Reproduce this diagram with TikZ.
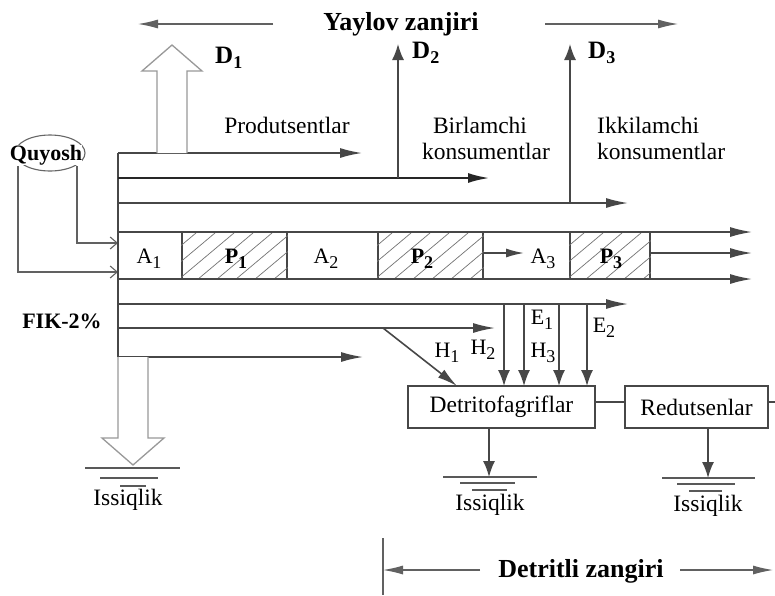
\documentclass[tikz,border=0pt]{standalone}
\usepackage{fontspec}
\setmainfont{Liberation Serif}
\usetikzlibrary{arrows.meta,shapes.geometric}
\newcommand\sbx[1]{\raisebox{-5pt}{\fontsize{18}{18}\selectfont #1}}
\begin{document}
\begin{tikzpicture}[x=1pt,y=-1pt,
  ln/.style={draw=black!72, line width=1.6pt},
  harr/.style={ln, -{Latex[length=22pt,width=10pt]}},
  varr/.style={ln, -{Latex[length=16pt,width=12pt]}},
  thinln/.style={draw=black!62, line width=1.1pt},
  tarr/.style={thinln, -{Latex[length=20pt,width=9pt]}},
  barb/.style={thinln, -{Straight Barb[length=7pt,width=12pt]}},
  hollow/.style={draw=black!40, line width=1.3pt, fill=white, line join=miter},
  hatch/.style={draw=black!55, line width=0.7pt},
  rg/.style={font=\fontsize{23.5}{26}\selectfont, inner sep=0pt},
  bd/.style={font=\fontsize{26}{28}\selectfont\bfseries, inner sep=0pt},
  lab/.style={font=\fontsize{22}{24}\selectfont, inner sep=0pt},
  blab/.style={font=\fontsize{22}{24}\selectfont\bfseries, inner sep=0pt},
  dlab/.style={font=\fontsize{25}{27}\selectfont\bfseries, inner sep=0pt},
  cell/.style={draw=black!72, line width=1.6pt, minimum height=47pt, inner sep=0pt},
  box/.style={draw=black!72, line width=1.6pt, minimum height=42pt, inner sep=0pt, font=\fontsize{23.5}{26}\selectfont},
  gnd/.style={draw=black!65, line width=1.4pt}
]
\useasboundingbox (0,0) rectangle (775,595);
\fill[white] (0,0) rectangle (775,595);

% ---------- title ----------
\node[bd, anchor=base] (yay) at (401,30) {Yaylov zanjiri};
\coordinate (yl1) at (273,24); \coordinate (yl2) at (138,24);
\coordinate (yr1) at (545,24); \coordinate (yr2) at (678,24);
\draw[tarr] (yl1) -- (yl2);
\draw[tarr] (yr1) -- (yr2);

% ---------- Quyosh ----------
\node[ellipse, draw=black!60, line width=1.1pt, minimum width=70pt, minimum height=36pt, inner sep=0pt] (quy) at (50,153) {};
\node[blab, fill=white, anchor=base] (quyt) at (46,160) {Quyosh};
\coordinate (q1) at (18,166); \coordinate (q1b) at (18,272); \coordinate (q1e) at (118,272);
\coordinate (q2) at (77,166); \coordinate (q2b) at (77,243); \coordinate (q2e) at (118,243);
\draw[barb] (q1) -- (q1b) -- (q1e);
\draw[barb] (q2) -- (q2b) -- (q2e);

% ---------- strip cells ----------
\node[cell, minimum width=64pt]  (A1) at (150,255.5) {};
\node[cell, minimum width=105pt] (P1) at (234.5,255.5) {};
\node[cell, minimum width=91pt]  (A2) at (332.5,255.5) {};
\node[cell, minimum width=105pt] (P2) at (430.5,255.5) {};
\node[cell, minimum width=87pt]  (A3) at (526.5,255.5) {};
\node[cell, minimum width=80pt]  (P3) at (610,255.5) {};
\foreach \c in {P1,P2,P3}{
  \begin{scope}
    \clip (\c.south west) rectangle (\c.north east);
    \foreach \k in {0,...,10}
      \draw[hatch] (\c.south west) ++({\k*19-60},0) -- ++(56,-47);
  \end{scope}
}
\node[lab, anchor=base] (tA1) at (149,263) {A\sbx{1}};
\node[blab, anchor=base] (tP1) at (236,263) {P\sbx{1}};
\node[lab, anchor=base] (tA2) at (326,263) {A\sbx{2}};
\node[blab, anchor=base] (tP2) at (422,263) {P\sbx{2}};
\node[lab, anchor=base] (tA3) at (543,263) {A\sbx{3}};
\node[blab, anchor=base] (tP3) at (611,263) {P\sbx{3}};

% ---------- horizontal flows ----------
\coordinate (v0) at (118,153); \coordinate (v1) at (118,357);
\coordinate (h1s) at (118,153); \coordinate (h1e) at (362,153);
\coordinate (h2s) at (118,178); \coordinate (h2e) at (490,178);
\coordinate (h3s) at (118,203); \coordinate (h3e) at (628,203);
\coordinate (h4s) at (118,232); \coordinate (h4e) at (752,232);
\coordinate (h5s) at (650,253); \coordinate (h5e) at (752,253);
\coordinate (h6s) at (118,279); \coordinate (h6e) at (752,279);
\coordinate (h7s) at (118,304); \coordinate (h7e) at (628,304);
\coordinate (h8s) at (118,328); \coordinate (h8e) at (495,328);
\coordinate (h9s) at (118,357); \coordinate (h9e) at (363,357);
\draw[ln] (v0) -- (v1);
\draw[harr] (h1s) -- (h1e);
\draw[harr, line width=2.6pt, draw=black!85] (h2s) -- (h2e);
\draw[harr] (h3s) -- (h3e);
\draw[harr] (h4s) -- (h4e);
\draw[harr] (h5s) -- (h5e);
\draw[harr] (h6s) -- (h6e);
\draw[harr] (h7s) -- (h7e);
\draw[harr] (h8s) -- (h8e);
\draw[harr] (h9s) -- (h9e);
\coordinate (pa) at (483,253); \coordinate (pb) at (524,253);
\draw[harr, -{Latex[length=18pt,width=9pt]}] (pa) -- (pb);

% ---------- D arrows ----------
\draw[hollow] (157,153) -- (157,71) -- (142,71) -- (172,45) -- (202,71) -- (187,71) -- (187,153);
\node[dlab, anchor=base west] (D1) at (215,63) {D\sbx{1}};
\coordinate (d2s) at (398,178); \coordinate (d2e) at (398,44);
\coordinate (d3s) at (570,203); \coordinate (d3e) at (570,44);
\draw[varr] (d2s) -- (d2e);
\draw[varr] (d3s) -- (d3e);
\node[dlab, anchor=base west] (D2) at (412,58) {D\sbx{2}};
\node[dlab, anchor=base west] (D3) at (588,58) {D\sbx{3}};

% ---------- text labels ----------
\node[rg, anchor=base] (prod) at (287,133) {Produtsentlar};
\node[rg, anchor=base] (bir1) at (480,133) {Birlamchi};
\node[rg, anchor=base] (bir2) at (486,159) {konsumentlar};
\node[rg, anchor=base west] (ikk1) at (597,133) {Ikkilamchi};
\node[rg, anchor=base west] (ikk2) at (597,159) {konsumentlar};
\node[blab, anchor=base] (fik) at (62,328) {FIK-2\%};

% ---------- detritus boxes ----------
\node[box, minimum width=187pt] (det) at (501.5,407) {Detritofagriflar};
\node[box, minimum width=143pt] (red) at (696.5,407) {Redutsenlar};
\coordinate (redr) at (775,402);
\draw[ln] ([yshift=5pt]det.east) -- ([yshift=5pt]red.west);
\draw[ln] ([yshift=5pt]red.east) -- (redr);

% vertical arrows into Detritofagriflar
\foreach \x/\n in {504/a,524/b,559/c,587/d}{
  \coordinate (e\n s) at (\x,304);
  \coordinate (e\n e) at (\x,386);
  \draw[varr] (e\n s) -- (e\n e);
}
\coordinate (dg1) at (383,328); \coordinate (dg2) at (457,386);
\draw[ln, -{Latex[length=20pt,width=10pt]}] (dg1) -- (dg2);
\node[lab, anchor=base] (E1) at (542,324) {E\sbx{1}};
\node[lab, anchor=base] (E2) at (604,332) {E\sbx{2}};
\node[lab, anchor=base] (H1) at (447,357) {H\sbx{1}};
\node[lab, anchor=base] (H2) at (483,354) {H\sbx{2}};
\node[lab, anchor=base] (H3) at (543,357) {H\sbx{3}};

% ---------- heat outputs ----------
\draw[hollow] (118,357) -- (118,438) -- (102,438) -- (133,465) -- (164,438) -- (148,438) -- (148,357);
\draw[gnd] (85,468) -- (180,468);
\draw[gnd] (100,478) -- (158,478);
\draw[gnd, line width=2pt] (120,486) -- (146,486);
\node[rg, anchor=base] (iss1) at (128,505) {Issiqlik};

\coordinate (dd) at (489,477);
\draw[varr] (det.south -| dd) -- (dd);
\draw[gnd] (443,477) -- (537,477);
\draw[gnd] (460,483) -- (515,483);
\draw[gnd] (472,490) -- (507,490);
\node[rg, anchor=base] (iss2) at (490,510) {Issiqlik};

\coordinate (rd) at (708,478);
\draw[varr] (red.south -| rd) -- (rd);
\draw[gnd] (662,478) -- (755,478);
\draw[gnd] (677,484) -- (735,484);
\draw[gnd] (689,491) -- (722,491);
\node[rg, anchor=base] (iss3) at (708,511) {Issiqlik};

% ---------- Detritli zangiri ----------
\node[bd, anchor=base] (detz) at (581,577) {Detritli zangiri};
\coordinate (bt) at (383,538); \coordinate (bb) at (383,595);
\draw[thinln, line width=1.4pt] (bt) -- (bb);
\coordinate (dl1) at (480,570); \coordinate (dl2) at (383,570);
\coordinate (dr1) at (680,570); \coordinate (dr2) at (773,570);
\draw[tarr] (dl1) -- (dl2);
\draw[tarr] (dr1) -- (dr2);
\end{tikzpicture}
\end{document}
